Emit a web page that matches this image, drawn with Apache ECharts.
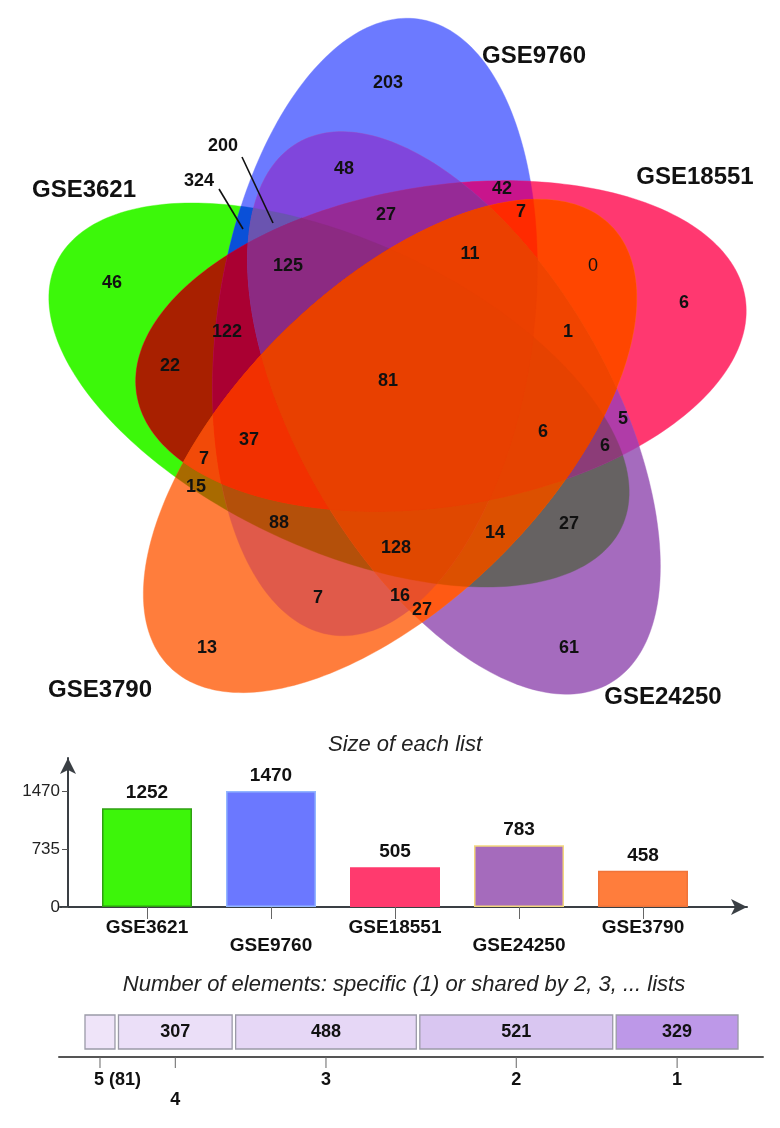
<!DOCTYPE html>
<html><head><meta charset="utf-8">
<script src="https://cdn.jsdelivr.net/npm/echarts@6/dist/echarts.min.js"></script>
<style>html,body{margin:0;padding:0;background:#fff}#c{width:780px;height:1128px}</style>
</head><body><div id="c"></div>
<script>
// ---------------- DATA ----------------
const setNames = ['GSE3621', 'GSE9760', 'GSE18551', 'GSE24250', 'GSE3790'];
const listSizes = [1252, 1470, 505, 783, 458];
const sizeTickValues = [0, 735, 1470];
const sharedDegrees = [5, 4, 3, 2, 1];
const sharedCounts = [81, 307, 488, 521, 329];
const regionCounts = [46, 203, 6, 61, 13, 48, 42, 7, 27, 200, 324, 125, 11, 0, 122, 1, 22, 81, 6, 5, 6, 37, 7, 15, 88, 128, 14, 27, 7, 16, 27];

// ---------------- LAYOUT / STYLE ----------------
const FONT = '"Liberation Sans", Arial, Helvetica, sans-serif';
const ellipseLayout = [
  { cx: 339, cy: 395, a: 312, b: 154, angle: 155 }, // GSE3621
  { cx: 375, cy: 327, a: 311, b: 158, angle: 82 },  // GSE9760
  { cx: 441, cy: 346, a: 308, b: 160, angle: 9 },   // GSE18551
  { cx: 454, cy: 413, a: 312, b: 156, angle: 120 }, // GSE24250
  { cx: 390, cy: 446, a: 312, b: 156, angle: 45 }   // GSE3790
];
// region fill colours, keyed by the indices (into setNames) of the sets that overlap there
const regionColors = {
  '0': '#3cf80a', '1': '#6c7aff', '2': '#ff3870', '3': '#a56bbe', '4': '#ff7d3c',
  '01': '#0a50d8', '02': '#a82000', '03': '#666262', '04': '#a86a00', '12': '#c8148c',
  '13': '#8046dc', '14': '#e05a4a', '23': '#b03ca8', '24': '#ff4600', '34': '#ff5a14',
  '012': '#aa0032', '013': '#6a54b0', '014': '#b4500a', '023': '#8c3c78', '024': '#f24a08',
  '034': '#dc5000', '123': '#962a96', '124': '#ff2a00', '134': '#e8502a', '234': '#f04400',
  '0123': '#8c2a82', '0124': '#f23000', '0134': '#e04800', '0234': '#e64200', '1234': '#eb4000',
  '01234': '#e84000'
};
const setStyle = [
  { bar: '#3df50a', border: '#2f9e12' },
  { bar: '#6b78ff', border: '#93b6ff' },
  { bar: '#ff3a6e', border: '#ff3a6e' },
  { bar: '#a56bbc', border: '#f3d77e' },
  { bar: '#ff7d3c', border: '#f0743a' }
];
const setLabelPos = [[84, 190], [534, 56], [695, 177], [663, 697], [100, 690]];
const regionLabelPos = [
  [112, 283], [388, 83], [684, 303], [569, 648], [207, 648], [344, 169], [502, 189], [521, 212],
  [386, 215], [223, 146], [199, 181], [288, 266], [470, 254], [593, 266], [227, 332], [568, 332],
  [170, 366], [388, 381], [543, 432], [623, 419], [605, 446], [249, 440], [204, 459], [196, 487],
  [279, 523], [396, 548], [495, 533], [569, 524], [318, 598], [400, 596], [422, 610]
];
const leaderLines = [[[242, 157], [273, 223]], [[219, 189], [243, 229]]];
const segColors = ['#efe4f9', '#ebdff8', '#e6d7f6', '#d9c6f1', '#bd98e8'];
const GAP = 3.5;

// ---------------- GEOMETRY (ellipse outlines, overlaps) ----------------
function ellipsePoly(e, n) {
  const th = e.angle * Math.PI / 180, c = Math.cos(th), s = Math.sin(th);
  const pts = [];
  for (let k = 0; k < n; k++) {
    const t = 2 * Math.PI * k / n;
    const u = e.a * Math.cos(t), v = e.b * Math.sin(t);
    pts.push([e.cx + u * c - v * s, e.cy - (u * s + v * c)]);
  }
  return pts;
}
function polyArea(p) {
  let A = 0;
  for (let i = 0; i < p.length; i++) { const a = p[i], b = p[(i + 1) % p.length]; A += a[0] * b[1] - b[0] * a[1]; }
  return A / 2;
}
function clipConvex(subject, clip) {
  const o = polyArea(clip) > 0 ? 1 : -1;
  let out = subject;
  for (let i = 0; i < clip.length; i++) {
    if (!out.length) break;
    const A = clip[i], B = clip[(i + 1) % clip.length];
    const inp = out; out = [];
    const side = P => o * ((B[0] - A[0]) * (P[1] - A[1]) - (B[1] - A[1]) * (P[0] - A[0]));
    let S = inp[inp.length - 1], sS = side(S);
    for (const E of inp) {
      const sE = side(E);
      if (sE >= 0) {
        if (sS < 0) { const t = sS / (sS - sE); out.push([S[0] + (E[0] - S[0]) * t, S[1] + (E[1] - S[1]) * t]); }
        out.push(E);
      } else if (sS >= 0) {
        const t = sS / (sS - sE); out.push([S[0] + (E[0] - S[0]) * t, S[1] + (E[1] - S[1]) * t]);
      }
      S = E; sS = sE;
    }
  }
  return out;
}
const ellPolys = ellipseLayout.map(e => ellipsePoly(e, 240));
const masks = [];
for (let m = 1; m < 32; m++) masks.push(m);
const bitCount = m => m.toString(2).replace(/0/g, '').length;
masks.sort((a, b) => bitCount(a) - bitCount(b) || a - b);
const regionPolys = {};
const regionKey = {};
masks.forEach(m => {
  const idx = [0, 1, 2, 3, 4].filter(i => m & (1 << i));
  let p = ellPolys[idx[0]];
  for (let j = 1; j < idx.length; j++) p = clipConvex(p, ellPolys[idx[j]]);
  regionPolys[m] = p;
  regionKey[m] = idx.join('');
});

// ---------------- BUILD ----------------
let cum = 0;
const segData = sharedCounts.map((v, i) => {
  const s = cum; cum += v;
  return [s, cum, v, sharedDegrees[i], i];
});

const chart = echarts.init(document.getElementById('c'), null, { renderer: 'canvas' });

const hiddenAxis = (extra) => Object.assign({ type: 'value', show: false, splitLine: { show: false } }, extra);

const textItem = (x, y, text, font) => ({
  type: 'text', x, y,
  style: { text, font, fill: '#111', align: 'center', verticalAlign: 'middle' }
});

const option = {
  animation: false,
  backgroundColor: '#fff',
  graphic: [
    { type: 'text', x: 405, y: 745, style: { text: 'Size of each list', font: 'italic 22px ' + FONT, fill: '#222', align: 'center', verticalAlign: 'middle' } },
    { type: 'text', x: 404, y: 985, style: { text: 'Number of elements: specific (1) or shared by 2, 3, ... lists', font: 'italic 22px ' + FONT, fill: '#222', align: 'center', verticalAlign: 'middle' } }
  ],
  grid: [
    { left: 0, top: 0, width: 780, height: 710, outerBoundsMode: 'none' },
    { left: 60, top: 758, right: 33, height: 149, outerBoundsMode: 'none' },
    { left: 85, top: 758, width: 620, height: 149, outerBoundsMode: 'none' },
    { left: 59, top: 1015, right: 17, height: 42, outerBoundsMode: 'none' }
  ],
  xAxis: [
    hiddenAxis({ gridIndex: 0, min: 0, max: 780 }),
    {
      gridIndex: 1, type: 'value', min: 0, max: 1,
      axisLine: { show: true, symbol: ['none', 'arrow'], symbolSize: [12, 16], lineStyle: { color: '#3a3f44', width: 2 } },
      axisTick: { show: false }, axisLabel: { show: false }, splitLine: { show: false }
    },
    {
      gridIndex: 2, type: 'category', data: setNames,
      axisLine: { show: false },
      axisTick: { show: true, alignWithLabel: true, length: 12, lineStyle: { color: '#666', width: 1 } },
      axisLabel: {
        margin: 12, fontSize: 19, fontWeight: 'bold', fontFamily: FONT, color: '#111', lineHeight: 18,
        formatter: (v, i) => (i % 2 ? '\n' + v : v)
      },
      splitLine: { show: false }
    },
    {
      gridIndex: 3, type: 'value', min: -70.2, max: 1831.3,
      axisLine: { show: true, lineStyle: { color: '#555', width: 2 } },
      axisTick: { show: false }, axisLabel: { show: false }, splitLine: { show: false }
    }
  ],
  yAxis: [
    hiddenAxis({ gridIndex: 0, min: 0, max: 710, inverse: true }),
    hiddenAxis({ gridIndex: 1, min: 0, max: 1 }),
    {
      gridIndex: 2, type: 'value', min: 0, max: 1888, offset: 17,
      axisLine: { show: true, symbol: ['none', 'arrow'], symbolSize: [12, 16], lineStyle: { color: '#3a3f44', width: 2 } },
      axisTick: { show: true, length: 6, customValues: sizeTickValues, lineStyle: { color: '#555' } },
      axisLabel: { customValues: sizeTickValues, formatter: v => String(v), margin: 8, fontSize: 17, fontFamily: FONT, color: '#222' },
      splitLine: { show: false }
    },
    hiddenAxis({ gridIndex: 3, min: 0, max: 42 })
  ],
  series: [
    {
      type: 'custom', xAxisIndex: 0, yAxisIndex: 0, z: 1, clip: false,
      data: masks.map(m => [m]),
      renderItem: (params, api) => {
        const m = api.value(0);
        const pts = regionPolys[m].map(p => api.coord(p));
        if (pts.length < 3) return { type: 'group', children: [] };
        const col = regionColors[regionKey[m]];
        return { type: 'polygon', shape: { points: pts }, style: { fill: col, stroke: col, lineWidth: 0.4 } };
      }
    },
    {
      type: 'lines', coordinateSystem: 'cartesian2d', xAxisIndex: 0, yAxisIndex: 0, z: 5,
      symbol: 'none', lineStyle: { color: '#111', width: 1.6, opacity: 1 },
      data: leaderLines.map(c => ({ coords: c }))
    },
    {
      type: 'custom', xAxisIndex: 0, yAxisIndex: 0, z: 6, clip: false,
      data: regionCounts.map((v, k) => [regionLabelPos[k][0], regionLabelPos[k][1], v]),
      renderItem: (params, api) => {
        const p = api.coord([api.value(0), api.value(1)]);
        const v = api.value(2);
        return textItem(p[0], p[1], String(v), (v === 0 ? '' : 'bold ') + '18px ' + FONT);
      }
    },
    {
      type: 'custom', xAxisIndex: 0, yAxisIndex: 0, z: 6, clip: false,
      data: setNames.map((n, k) => [setLabelPos[k][0], setLabelPos[k][1], k]),
      renderItem: (params, api) => {
        const p = api.coord([api.value(0), api.value(1)]);
        return textItem(p[0], p[1], setNames[api.value(2)], 'bold 24px ' + FONT);
      }
    },
    {
      type: 'bar', xAxisIndex: 2, yAxisIndex: 2, barWidth: 90,
      data: listSizes.map((v, i) => ({
        value: v,
        itemStyle: { color: setStyle[i].bar, borderColor: setStyle[i].border, borderWidth: 1.5 }
      })),
      label: { show: true, position: 'top', distance: 6, fontSize: 19, fontWeight: 'bold', fontFamily: FONT, color: '#111' }
    },
    {
      type: 'custom', xAxisIndex: 3, yAxisIndex: 3, clip: false,
      data: segData,
      renderItem: (params, api) => {
        const i = api.value(4);
        const val = api.value(2);
        const deg = api.value(3);
        const x0 = api.coord([api.value(0), 0])[0] + i * GAP;
        const x1 = api.coord([api.value(1), 0])[0] + i * GAP;
        const yTop = api.coord([0, 42])[1];
        const yBot = api.coord([0, 8])[1];
        const yAx = api.coord([0, 0])[1];
        const xm = (x0 + x1) / 2;
        const children = [
          { type: 'rect', shape: { x: x0, y: yTop, width: x1 - x0, height: yBot - yTop },
            style: { fill: segColors[i], stroke: '#9b9aa8', lineWidth: 1.3 } },
          { type: 'line', shape: { x1: xm, y1: yAx, x2: xm, y2: yAx + 11 }, style: { stroke: '#666', lineWidth: 1 } }
        ];
        if (i > 0) children.push(textItem(xm, (yTop + yBot) / 2, String(val), 'bold 18px ' + FONT));
        const lab = i === 0 ? deg + ' (' + val + ')' : String(deg);
        children.push({ type: 'text', x: i === 0 ? xm - 6 : xm, y: i === 1 ? yAx + 43 : yAx + 23,
          style: { text: lab, font: 'bold 18px ' + FONT, fill: '#111', align: i === 0 ? 'left' : 'center', verticalAlign: 'middle' } });
        return { type: 'group', children };
      }
    }
  ]
};
chart.setOption(option);
</script>
</body></html>
